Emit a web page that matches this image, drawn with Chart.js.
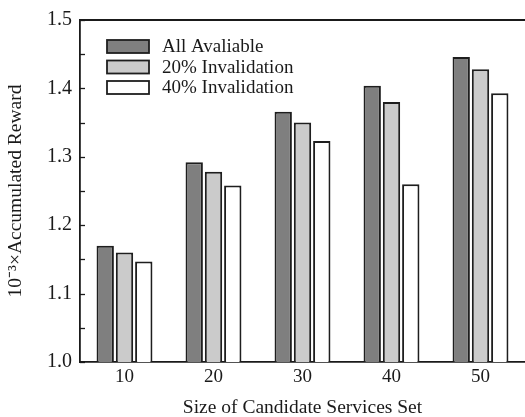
<!DOCTYPE html>
<html>
<head>
<meta charset="utf-8">
<script src="https://cdn.jsdelivr.net/npm/chart.js@4.4.1/dist/chart.umd.min.js"></script>
<style>
  html, body { margin: 0; padding: 0; background: #ffffff; }
  #wrap { width: 525px; height: 417px; }
</style>
</head>
<body>
<div id="wrap"><canvas id="c" width="525" height="417"></canvas></div>
<script>
// Candidate set sizes on the x axis
const categories = ['10', '20', '30', '40', '50'];

// Accumulated reward (x 10^-3) for each availability scenario
const allAvailable   = [1.170, 1.292, 1.366, 1.404, 1.446];
const invalidation20 = [1.160, 1.278, 1.350, 1.380, 1.428];
const invalidation40 = [1.147, 1.258, 1.323, 1.260, 1.393];

const seriesNames = ['All Avaliable', '20% Invalidation', '40% Invalidation'];

// Value axis range and tick step (labels every 0.1, marks every 0.05)
const yMin = 1.0;
const yMax = 1.5;
const yStep = 0.05;

const FONT = "'Liberation Serif', 'Times New Roman', serif";
const INK = '#1a1a1a';

// Frame line on top, inward tick marks on the value axis, and the inset legend
const framePlugin = {
  id: 'frame',
  afterDraw(chart) {
    const { ctx, chartArea: a, scales } = chart;
    const y = scales.y;
    ctx.save();
    ctx.strokeStyle = INK;
    ctx.lineWidth = 1.8;
    ctx.beginPath();
    ctx.moveTo(a.left, a.top);
    ctx.lineTo(a.right, a.top);
    ctx.stroke();

    ctx.lineWidth = 1.3;
    y.ticks.forEach(t => {
      const py = Math.round(y.getPixelForValue(t.value)) + 0.5;
      ctx.beginPath();
      ctx.moveTo(a.left, py);
      ctx.lineTo(a.left + 5, py);
      ctx.stroke();
    });

    // legend inside the plotting area
    const bx = a.left + 27, by = a.top + 20, bw = 42, bh = 13, gap = 20.5;
    ctx.font = '19px ' + FONT;
    ctx.textBaseline = 'middle';
    ctx.textAlign = 'left';
    chart.data.datasets.forEach((ds, i) => {
      const top = by + i * gap;
      ctx.fillStyle = ds.backgroundColor;
      ctx.fillRect(bx, top, bw, bh);
      ctx.strokeStyle = ds.borderColor;
      ctx.lineWidth = 1.8;
      ctx.strokeRect(bx, top, bw, bh);
      ctx.fillStyle = INK;
      ctx.fillText(ds.label, bx + 55, top + bh / 2 + 1);
    });
    ctx.restore();
  }
};

const barStyle = {
  borderColor: '#1e1e1e',
  borderWidth: 2,
  borderSkipped: 'start',
  categoryPercentage: 0.65,
  barPercentage: 0.9
};

new Chart(document.getElementById('c'), {
  type: 'bar',
  data: {
    labels: categories,
    datasets: [
      Object.assign({ label: seriesNames[0], data: allAvailable,   backgroundColor: '#7f7f7f' }, barStyle),
      Object.assign({ label: seriesNames[1], data: invalidation20, backgroundColor: '#cbcbcb' }, barStyle),
      Object.assign({ label: seriesNames[2], data: invalidation40, backgroundColor: '#ffffff' }, barStyle)
    ]
  },
  options: {
    responsive: false,
    animation: false,
    devicePixelRatio: 1,
    layout: { padding: { top: 15, right: 0, bottom: 0, left: 0 } },
    plugins: {
      legend: { display: false },
      tooltip: { enabled: false }
    },
    scales: {
      x: {
        grid: { display: false, drawTicks: false },
        border: { display: true, color: INK, width: 1.8 },
        ticks: { color: INK, font: { family: FONT, size: 19 }, padding: 4 },
        title: {
          display: true,
          text: 'Size of Candidate Services Set',
          color: INK,
          font: { family: FONT, size: 19.5 },
          padding: { top: 0, bottom: -3 }
        },
        afterFit(scale) { scale.height = 55; }
      },
      y: {
        min: yMin,
        max: yMax,
        grid: { display: false, drawTicks: false },
        border: { display: true, color: INK, width: 1.8 },
        ticks: {
          stepSize: yStep,
          autoSkip: false,
          color: INK,
          font: { family: FONT, size: 20 },
          padding: 8,
          callback(v) {
            return Math.round(v * 100) % 10 === 0 ? Number(v).toFixed(1) : '';
          }
        },
        title: {
          display: true,
          text: '10\u207B\u00B3\u00D7Accumulated Reward',
          color: INK,
          font: { family: FONT, size: 19.5 },
          padding: { top: 4, bottom: 0 }
        },
        afterFit(scale) { scale.width = 80; }
      }
    }
  },
  plugins: [framePlugin]
});
</script>
</body>
</html>
